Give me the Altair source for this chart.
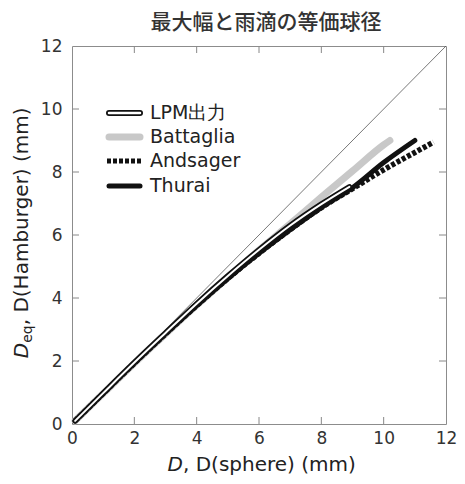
import altair as alt
import pandas as pd

# ---- data ----
ticks = [0, 2, 4, 6, 8, 10, 12]
inner_ticks = [2, 4, 6, 8, 10]

lpm_x = [0.1, 1, 2, 3, 4, 5, 6, 7, 8, 8.9]
lpm_y = [0.1, 0.98, 1.95, 2.89, 3.82, 4.7, 5.53, 6.3, 6.98, 7.53]

battaglia_x = [0.1, 1, 2, 3, 4, 5, 6, 7, 8, 9, 10, 10.2]
battaglia_y = [0.1, 0.97, 1.93, 2.86, 3.77, 4.65, 5.52, 6.35, 7.2, 8.03, 8.86, 9.0]

andsager_x = [0.1, 1, 2, 3, 4, 5, 6, 7, 8, 9, 10, 11, 11.6]
andsager_y = [0.1, 0.97, 1.93, 2.86, 3.76, 4.62, 5.42, 6.17, 6.87, 7.47, 8.07, 8.62, 8.95]

thurai_x = [0.1, 1, 2, 3, 4, 5, 6, 7, 8, 9, 10, 11]
thurai_y = [0.1, 0.97, 1.93, 2.86, 3.76, 4.62, 5.42, 6.17, 6.87, 7.5, 8.3, 9.0]

diag = [0, 12]

legend_names = ["LPM出力", "Battaglia", "Andsager", "Thurai"]
title_text = "最大幅と雨滴の等価球径"

W, H = 374, 378
FONT = "DejaVu Sans"

xs = alt.Scale(domain=[0, 12], nice=False, zero=False)
ys = alt.Scale(domain=[0, 12], nice=False, zero=False)

xaxis = alt.Axis(values=ticks, tickSize=0, domain=False, grid=False, labelPadding=6,
                 labelFontSize=17, labelFont=FONT, labelColor="#333", title=None,
                 labelFlush=False)
yaxis = alt.Axis(values=ticks, tickSize=0, domain=False, grid=False, labelPadding=10,
                 labelFontSize=17, labelFont=FONT, labelColor="#333", title=None,
                 labelFlush=False)

def df(x, y):
    return pd.DataFrame({"x": x, "y": y})

base_line = alt.Chart(df(diag, diag)).mark_line(color="#555", strokeWidth=0.8).encode(
    x=alt.X("x:Q", scale=xs, axis=xaxis),
    y=alt.Y("y:Q", scale=ys, axis=yaxis),
)

def curve(x, y, **kw):
    return alt.Chart(df(x, y)).mark_line(interpolate="monotone", **kw).encode(
        x=alt.X("x:Q", scale=xs), y=alt.Y("y:Q", scale=ys)
    )

batt = curve(battaglia_x, battaglia_y, color="#c8c8c8", strokeWidth=7, strokeCap="round")
ands = curve(andsager_x, andsager_y, color="#111", strokeWidth=5.5, strokeDash=[4, 2])
thur = curve(thurai_x, thurai_y, color="#111", strokeWidth=5, strokeCap="round")
lpm_o = curve(lpm_x, lpm_y, color="#111", strokeWidth=5.5, strokeCap="round")
lpm_i = curve(lpm_x, lpm_y, color="#fff", strokeWidth=2, strokeCap="round")

# inward ticks
tk = pd.DataFrame({"v": inner_ticks})
tick_col = "#888"
tb = alt.Chart(tk).mark_rule(color=tick_col).encode(x=alt.X("v:Q", scale=xs), y=alt.value(H), y2=alt.value(H - 7))
tt = alt.Chart(tk).mark_rule(color=tick_col).encode(x=alt.X("v:Q", scale=xs), y=alt.value(0), y2=alt.value(7))
tl = alt.Chart(tk).mark_rule(color=tick_col).encode(y=alt.Y("v:Q", scale=ys), x=alt.value(0), x2=alt.value(7))
tr = alt.Chart(tk).mark_rule(color=tick_col).encode(y=alt.Y("v:Q", scale=ys), x=alt.value(W), x2=alt.value(W - 7))

one = pd.DataFrame({"k": [0]})

def leg_rule(yp, x1=37, x2=68, **kw):
    return alt.Chart(one).mark_rule(**kw).encode(
        x=alt.value(x1), x2=alt.value(x2), y=alt.value(yp)
    )

rows = [67, 91, 115, 140]
leg = [
    leg_rule(rows[0], color="#111", strokeWidth=6, strokeCap="round"),
    leg_rule(rows[0], color="#fff", strokeWidth=2.5, strokeCap="round"),
    leg_rule(rows[1], color="#c8c8c8", strokeWidth=7, strokeCap="round"),
    leg_rule(rows[2], 35, 71, color="#111", strokeWidth=5, strokeDash=[4, 2]),
    leg_rule(rows[3], color="#111", strokeWidth=5, strokeCap="round"),
]
leg_txt = [
    alt.Chart(pd.DataFrame({"t": [name]})).mark_text(
        align="left", baseline="middle", fontSize=19, font=FONT, color="#222"
    ).encode(text="t:N", x=alt.value(78), y=alt.value(yp))
    for name, yp in zip(legend_names, rows)
]

def txt(s, x, y, **kw):
    return alt.Chart(pd.DataFrame({"t": [s]})).mark_text(**kw).encode(
        text="t:N", x=alt.value(x), y=alt.value(y))

title = txt(title_text, 194, -23, align="center", baseline="middle", fontSize=21,
            font="Noto Sans CJK JP", fontWeight=500, color="#333")

XB = 425
xt1 = txt("D", 95.6, XB, align="left", baseline="alphabetic", fontSize=20, font=FONT,
          fontStyle="italic", color="#222")
xt2 = txt(", D(sphere) (mm)", 111, XB, align="left", baseline="alphabetic", fontSize=20,
          font=FONT, color="#222")

YB = -44
yt1 = txt("D", YB, 312.2, align="left", baseline="alphabetic", angle=270, fontSize=20,
          font=FONT, fontStyle="italic", color="#222")
yt2 = txt("eq", YB + 4, 296.8, align="left", baseline="alphabetic", angle=270, fontSize=14,
          font=FONT, color="#222")
yt3 = txt(", D(Hamburger) (mm)", YB, 279.3, align="left", baseline="alphabetic", angle=270,
          fontSize=20, font=FONT, color="#222")

chart = alt.layer(
    base_line, tb, tt, tl, tr, batt, ands, thur, lpm_o, lpm_i,
    *leg, *leg_txt, title, xt1, xt2, yt1, yt2, yt3
).properties(
    width=W, height=H,
    autosize=alt.AutoSizeParams(type="none"),
    padding={"left": 64, "top": 38, "right": 11, "bottom": 52},
).configure_view(stroke="#8c8c8c", strokeWidth=1)

chart.save("out.html", embed_options={"renderer": "svg", "actions": False})
